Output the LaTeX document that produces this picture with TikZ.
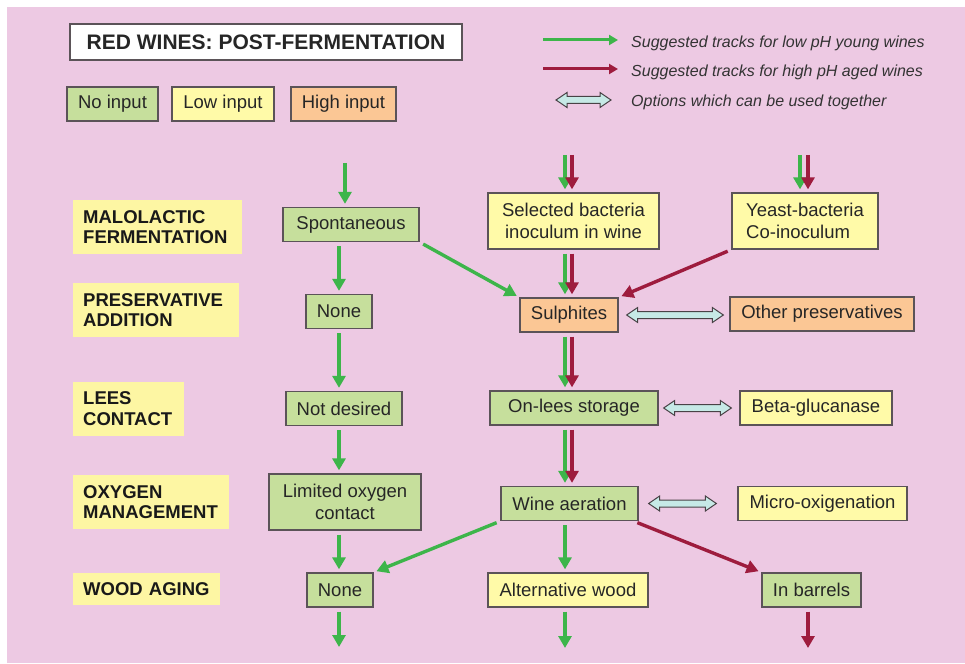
\documentclass[tikz,border=0pt]{standalone}
\usepackage{fontspec}
\setmainfont{Liberation Sans}
\usetikzlibrary{arrows.meta,calc}
\newcommand\bothways[2]{%
\path let \p1=(#1), \p2=(#2) in [opt] (\x1,\y1) -- (\x1+11pt,\y1+7.5pt) -- (\x1+11pt,\y1+3.5pt) -- (\x2-11pt,\y1+3.5pt) -- (\x2-11pt,\y1+7.5pt) -- (\x2,\y1) -- (\x2-11pt,\y1-7.5pt) -- (\x2-11pt,\y1-3.5pt) -- (\x1+11pt,\y1-3.5pt) -- (\x1+11pt,\y1-7.5pt) -- cycle;}
\begin{document}
\begin{tikzpicture}[x=1pt,y=-1pt,
  box/.style={draw=boxline,line width=1.3pt,inner sep=0pt,minimum height=34,align=center,text=black!85,font=\fontsize{18.5}{22}\selectfont},
  nob/.style={box,fill=boxgreen},
  lob/.style={box,fill=boxyellow},
  hib/.style={box,fill=boxorange},
  lbl/.style={fill=lblyellow,anchor=west,inner xsep=10,inner ysep=0,align=left,minimum height=54,text=black!90,font=\fontsize{18.5}{20.5}\selectfont\bfseries},
  leg/.style={anchor=west,inner sep=0pt,text=black!80,font=\fontsize{16}{19}\selectfont\itshape},
  gr/.style={draw=arrgreen,line width=3.4pt,-{Triangle[length=12pt,width=13pt]},shorten >=3pt,shorten <=4pt},
  rd/.style={gr,draw=arrred},
  opt/.style={draw=boxline!80!black,line width=1pt,fill=optcyan,line join=miter}]
\definecolor{pinkbg}{HTML}{EDC9E3}
\definecolor{boxgreen}{HTML}{C6DF9C}
\definecolor{boxyellow}{HTML}{FFFAA8}
\definecolor{boxorange}{HTML}{FBC795}
\definecolor{lblyellow}{HTML}{FDF6A3}
\definecolor{arrgreen}{HTML}{3DB54A}
\definecolor{arrred}{HTML}{9E1C3E}
\definecolor{optcyan}{HTML}{C6E9E6}
\definecolor{boxline}{HTML}{5B5358}
\useasboundingbox (0,0) rectangle (965,663);
\fill[white] (0,0) rectangle (965,663);
\fill[pinkbg] (7,7) rectangle (965,663);
\node[box,fill=white,minimum width=392,minimum height=36,font=\fontsize{21}{24}\selectfont\bfseries] (title) at (266,42) {RED WINES: POST-FERMENTATION};
\node[nob,minimum width=91] (noin) at (112.5,104) {No input};
\node[lob,minimum width=102] (lowin) at (223,104) {Low input};
\node[hib,minimum width=105] (highin) at (343.5,104) {High input};
\coordinate (lg1) at (543,40); \coordinate (lg2) at (618,40);
\coordinate (lr1) at (543,69); \coordinate (lr2) at (618,69);
\coordinate (lo1) at (556,100); \coordinate (lo2) at (611,100);
\node[leg] (lgt) at (631,43) {Suggested tracks for low pH young wines};
\node[leg] (lrt) at (631,72) {Suggested tracks for high pH aged wines};
\node[leg] (lot) at (631,102) {Options which can be used together};
\draw[gr,line width=3pt,-{Triangle[length=9pt,width=10pt]},shorten <=0pt,shorten >=0pt] (lg1) -- (lg2);
\draw[rd,line width=3pt,-{Triangle[length=9pt,width=10pt]},shorten <=0pt,shorten >=0pt] (lr1) -- (lr2);
\bothways{lo1}{lo2}
\node[lbl,text width=149] (mlf) at (73,227) {MALOLACTIC\\FERMENTATION};
\node[lbl,text width=146] (pres) at (73,310) {PRESERVATIVE\\ADDITION};
\node[lbl,text width=91] (lees) at (73,408.5) {LEES\\CONTACT};
\node[lbl,text width=136] (oxy) at (73,502) {OXYGEN\\MANAGEMENT};
\node[lbl,text width=127,minimum height=32] (wood) at (73,589) {WOOD AGING};
\node[nob,minimum width=136] (spont) at (351,224.5) {Spontaneous};
\node[nob,minimum width=66] (none1) at (339,311.5) {None};
\node[nob,minimum width=116] (notdes) at (344,408.5) {Not desired};
\node[nob,minimum width=152,minimum height=56] (limox) at (345,502) {Limited oxygen\\contact};
\node[nob,minimum width=66] (none2) at (340,590) {None};
\node[lob,minimum width=171,minimum height=56] (selbac) at (573.5,221) {Selected bacteria\\inoculum in wine};
\node[hib,minimum width=98] (sulph) at (569,315) {Sulphites};
\node[nob,minimum width=168] (onlees) at (574,408) {On-lees storage};
\node[nob,minimum width=137] (aer) at (569.5,503.5) {Wine aeration};
\node[lob,minimum width=160] (altwood) at (568,590) {Alternative wood};
\node[lob,minimum width=146,minimum height=56,align=left] (yeast) at (805,221) {Yeast-bacteria\\Co-inoculum};
\node[hib,minimum width=184] (othpres) at (822,314) {Other preservatives};
\node[lob,minimum width=152] (beta) at (816,408) {Beta-glucanase};
\node[lob,minimum width=169] (micro) at (822.5,503.5) {Micro-oxigenation};
\node[nob,minimum width=99] (barrels) at (811.5,590) {In barrels};
\coordinate (in1) at (345,159);
\coordinate (g2) at (565,151); \coordinate (r2) at (572,151);
\coordinate (g3) at (800,151); \coordinate (r3) at (808,151);
\coordinate (out1) at (339,650); \coordinate (out2) at (565,651); \coordinate (out3) at (808,651);
\draw[gr] (in1) -- (in1 |- spont.north);
\draw[gr] (spont.south -| none1) -- (none1.north);
\draw[gr] (none1.south) -- (none1.south |- notdes.north);
\draw[gr] (notdes.south -| none1) -- (limox.north -| none1);
\draw[gr] (limox.south -| none1) -- (none2.north -| none1);
\draw[gr] (none2.south -| none1) -- (out1);
\draw[gr] (g2) -- (g2 |- selbac.north);
\draw[rd] (r2) -- (r2 |- selbac.north);
\draw[gr] (g3) -- (g3 |- yeast.north);
\draw[rd] (r3) -- (r3 |- yeast.north);
\draw[gr] (selbac.south -| g2) -- (sulph.north -| g2);
\draw[rd] (selbac.south -| r2) -- (sulph.north -| r2);
\draw[gr] (sulph.south -| g2) -- (onlees.north -| g2);
\draw[rd] (sulph.south -| r2) -- (onlees.north -| r2);
\draw[gr] (onlees.south -| g2) -- (aer.north -| g2);
\draw[rd] (onlees.south -| r2) -- (aer.north -| r2);
\draw[gr] (aer.south -| g2) -- (altwood.north -| g2);
\draw[gr] (altwood.south -| g2) -- (out2);
\draw[gr] (spont.south east) -- (sulph.north west);
\draw[rd] (yeast.south west) -- (sulph.north east);
\draw[gr] (aer.south west) -- (none2.north east);
\draw[rd] ($(aer.south east)+(-5,0)$) -- (barrels.north west);
\draw[rd] (barrels.south -| r3) -- (out3);
\bothways{$(sulph.east)+(8,0)$}{$(othpres.west)+(-6,0)$}
\bothways{$(onlees.east)+(5,0)$}{$(beta.west)+(-8,0)$}
\bothways{$(aer.east)+(10,0)$}{$(micro.west)+(-21,0)$}
\end{tikzpicture}
\end{document}
